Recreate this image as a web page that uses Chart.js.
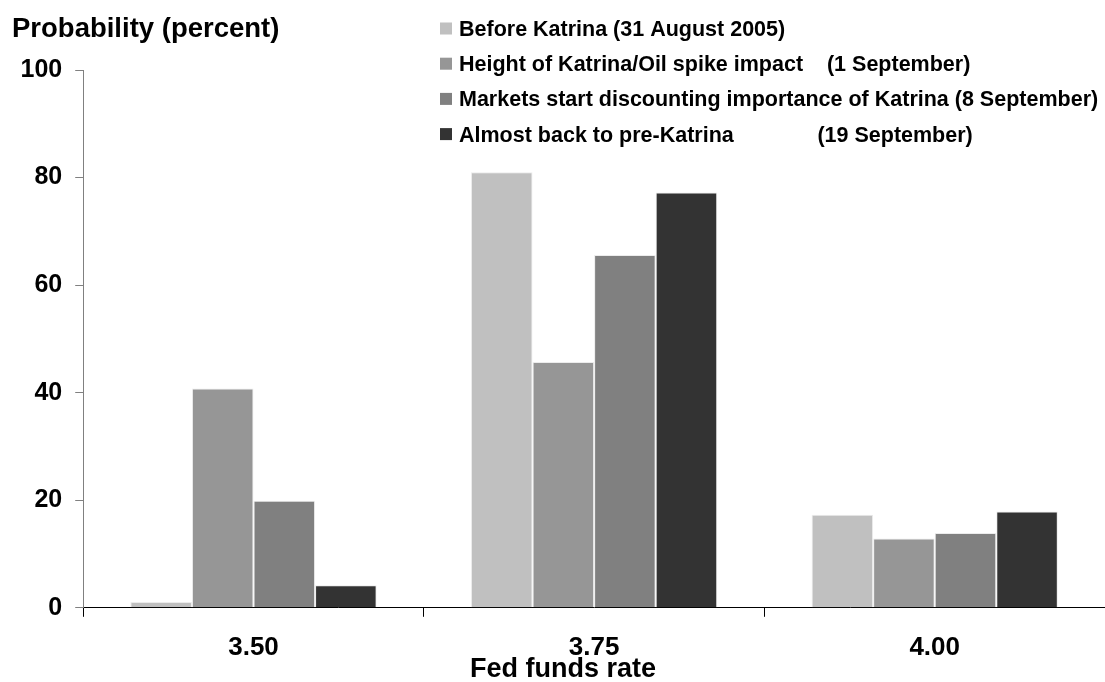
<!DOCTYPE html>
<html>
<head>
<meta charset="utf-8">
<script src="https://cdn.jsdelivr.net/npm/chart.js@4.4.1/dist/chart.umd.min.js"></script>
<style>
  html, body { margin: 0; padding: 0; background: #ffffff; }
  #wrap { width: 1105px; height: 682px; position: relative; }
</style>
</head>
<body>
<div id="wrap"><canvas id="chart" width="1105" height="682"></canvas></div>
<script>
// Fed funds rate outcomes (categories)
const rates = ['3.50', '3.75', '4.00'];

// Series names shown in the legend
const seriesNames = [
  'Before Katrina (31 August 2005)',
  'Height of Katrina/Oil spike impact    (1 September)',
  'Markets start discounting importance of Katrina (8 September)',
  'Almost back to pre-Katrina              (19 September)'
];

// Probability (percent) for each rate outcome
const beforeKatrina      = [1.1, 81.0, 17.3];
const heightOfKatrina    = [40.8, 45.7, 12.9];
const marketsDiscounting = [19.9, 65.6, 13.9];
const almostBack         = [4.2, 77.2, 17.9];

// Y axis tick values
const yTicks = [0, 20, 40, 60, 80, 100];

const seriesColors = ['#c0c0c0', '#969696', '#808080', '#333333'];
const FONT = "'Liberation Sans', Arial, Helvetica, sans-serif";

const seriesValues = [beforeKatrina, heightOfKatrina, marketsDiscounting, almostBack];

// Axis titles and the legend are painted on top of the chart
const annotations = {
  id: 'annotations',
  afterDraw(chart) {
    const ctx = chart.ctx;
    ctx.save();
    ctx.fillStyle = '#000';
    ctx.textBaseline = 'alphabetic';

    ctx.font = 'bold 27.5px ' + FONT;
    ctx.textAlign = 'left';
    ctx.fillText('Probability (percent)', 12, 37);

    ctx.font = 'bold 27px ' + FONT;
    ctx.textAlign = 'center';
    ctx.fillText('Fed funds rate', 563, 677);

    ctx.font = 'bold 21.5px ' + FONT;
    ctx.textAlign = 'left';
    chart.data.datasets.forEach((ds, i) => {
      const base = 36 + i * 35.2;
      ctx.fillStyle = ds.backgroundColor;
      ctx.fillRect(440, base - 13.5, 12, 12);
      ctx.fillStyle = '#000';
      ctx.fillText(ds.label, 459, base);
    });
    ctx.restore();
  }
};

new Chart(document.getElementById('chart'), {
  type: 'bar',
  data: {
    labels: rates,
    datasets: seriesValues.map((vals, i) => ({
      label: seriesNames[i],
      data: vals,
      backgroundColor: seriesColors[i],
      borderColor: '#ececec',
      borderWidth: 1,
      categoryPercentage: 0.723,
      barPercentage: 1.0
    }))
  },
  options: {
    responsive: false,
    devicePixelRatio: 1,
    animation: false,
    layout: { padding: { left: 7.5, right: -3, top: 70, bottom: 4 } },
    plugins: {
      legend: { display: false },
      title: { display: false },
      tooltip: { enabled: false }
    },
    scales: {
      x: {
        grid: {
          display: true,
          drawOnChartArea: false,
          drawTicks: true,
          tickLength: 9,
          color: '#000',
          offset: true
        },
        border: { display: true, color: '#000', width: 1 },
        ticks: {
          color: '#000',
          padding: 15,
          font: { family: FONT, weight: 'bold', size: 26 }
        }
      },
      y: {
        min: 0,
        max: 100,
        afterBuildTicks(scale) {
          scale.ticks = yTicks.map(v => ({ value: v }));
        },
        grid: {
          display: true,
          drawOnChartArea: false,
          drawTicks: true,
          tickLength: 8,
          color: '#808080'
        },
        border: { display: true, color: '#808080', width: 1 },
        ticks: {
          color: '#000',
          padding: 13,
          font: { family: FONT, weight: 'bold', size: 25 }
        }
      }
    }
  },
  plugins: [annotations]
});
</script>
</body>
</html>
